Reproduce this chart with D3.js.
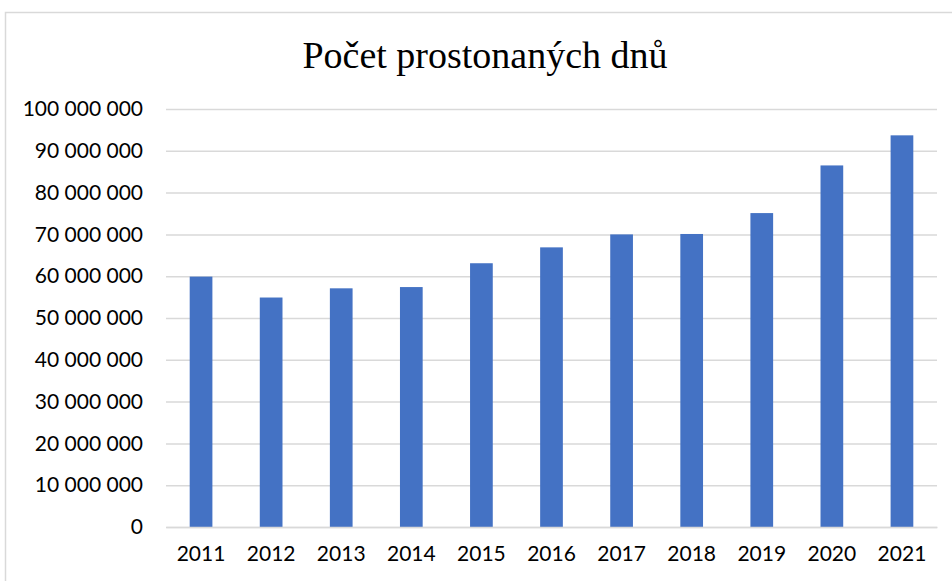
<!DOCTYPE html>
<html>
  <head>
    <meta charset="utf-8">
    <title>Počet prostonaných dnů</title>
    <script src="https://cdn.jsdelivr.net/npm/d3@7"></script>
    <style>
      body { margin: 0; background: #fff; }
    </style>
  </head>
  <body>
    <svg width="952" height="581" id="mainsvg"></svg>
    <script>
        // data
        const years = ['2011', '2012', '2013', '2014', '2015', '2016', '2017', '2018', '2019', '2020', '2021'];
        const days = [59900000, 54900000, 57100000, 57400000, 63100000, 66900000, 70000000, 70100000, 75100000, 86500000, 93700000];
        const yTicks = [0, 10000000, 20000000, 30000000, 40000000, 50000000, 60000000, 70000000, 80000000, 90000000, 100000000];

        const svg = d3.select('#mainsvg');
        const width = +svg.attr('width');
        const height = +svg.attr('height');
        const margin = {top: 109, right: 15, bottom: 54, left: 166};
        const innerWidth = width - margin.left - margin.right;
        const innerHeight = height - margin.top - margin.bottom;

        // chart border: only the left and top edges fall inside the picture
        svg.append('path')
          .attr('d', `M5.5,${height} V12.5 H${width}`)
          .attr('fill', 'none').attr('stroke', '#d9d9d9').attr('stroke-width', 1.5);

        const g = svg.append('g')
          .attr('transform', `translate(${margin.left}, ${margin.top})`);

        const xScale = d3.scaleBand()
          .domain(years)
          .range([0, innerWidth])
          .paddingInner(0.676)
          .paddingOuter(0.338);

        const yScale = d3.scaleLinear()
          .domain([0, 100000000])
          .range([innerHeight, 0]);

        const fmt = v => d3.format(',')(v).replace(/,/g, ' ');

        // y axis with gridlines
        const yAxis = d3.axisLeft(yScale).tickValues(yTicks).tickSize(-innerWidth).tickPadding(23).tickFormat(fmt);
        const yAxisGroup = g.append('g').call(yAxis);
        yAxisGroup.select('.domain').remove();
        yAxisGroup.selectAll('.tick line').attr('stroke', '#d9d9d9').attr('stroke-width', 1.5);
        yAxisGroup.selectAll('.tick text')
          .attr('font-family', 'Lato, "Open Sans", sans-serif')
          .attr('font-size', '21px')
          .attr('fill', '#000');

        // bars
        g.selectAll('.bar')
          .data(years)
          .join('rect')
          .attr('class', 'bar')
          .attr('x', (d) => xScale(d))
          .attr('width', xScale.bandwidth())
          .attr('y', (d, i) => yScale(days[i]))
          .attr('height', (d, i) => innerHeight - yScale(days[i]))
          .attr('fill', '#4472c4');

        // x axis
        const xAxis = d3.axisBottom(xScale).tickSize(0).tickPadding(19);
        const xAxisGroup = g.append('g').call(xAxis)
          .attr('transform', `translate(0, ${innerHeight})`);
        xAxisGroup.select('.domain').attr('stroke', '#d9d9d9').attr('stroke-width', 1.5);
        xAxisGroup.selectAll('.tick text')
          .attr('font-family', 'Lato, "Open Sans", sans-serif')
          .attr('font-size', '21px')
          .attr('fill', '#000');

        // title
        svg.append('text')
          .text('Počet prostonaných dnů')
          .attr('x', 485).attr('y', 68)
          .attr('text-anchor', 'middle')
          .attr('font-family', '"Liberation Serif", "Times New Roman", serif')
          .attr('font-size', '38px')
          .attr('fill', '#000');
    </script>
  </body>
</html>
